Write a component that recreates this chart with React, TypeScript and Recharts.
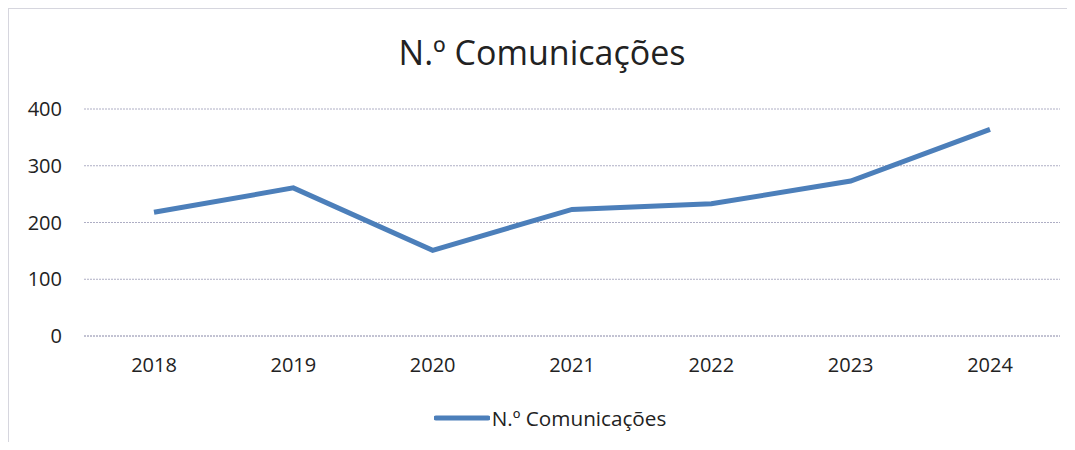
import { LineChart, Line, XAxis, YAxis, CartesianGrid } from "recharts";

const years = ["2018", "2019", "2020", "2021", "2022", "2023", "2024"];
const comunicacoes = [218, 261, 151, 223, 233, 273, 364];
const yTicks = [0, 100, 200, 300, 400];

const seriesName = "N.º Comunicações";
const data = years.map((year, i) => ({ year, value: comunicacoes[i] }));

const FONT = "'Open Sans', sans-serif";
const BLUE = "#4c7fba";

export default function App() {
  return (
    <div
      style={{
        position: "relative",
        width: 1059,
        height: 434,
        borderLeft: "1px solid #d6d6de",
        borderTop: "1px solid #d6d6de",
        boxSizing: "border-box",
        background: "#fff",
      }}
    >
      <div
        style={{
          position: "absolute",
          top: 20,
          left: 4,
          width: "100%",
          textAlign: "center",
          fontFamily: FONT,
          fontSize: 34,
          color: "#222",
        }}
      >
        {seriesName}
      </div>
      <LineChart
        width={1058}
        height={433}
        data={data}
        margin={{ top: 100, right: 7, left: 0, bottom: 76 }}
        style={{ position: "absolute", top: 0, left: 0 }}
      >
        <CartesianGrid vertical={false} stroke="#aeaec4" strokeDasharray="2 1" />
        <XAxis
          dataKey="year"
          padding={{ left: 70, right: 70 }}
          height={30}
          axisLine={{ stroke: "#aeaec4", strokeDasharray: "2 1" }}
          tickLine={false}
          tick={{ fontFamily: FONT, fontSize: 20, fill: "#222" }}
          tickMargin={16}
        />
        <YAxis
          domain={[0, 400]}
          ticks={yTicks}
          width={75}
          axisLine={false}
          tickLine={false}
          tickSize={0}
          tickMargin={22}
          tick={{ fontFamily: FONT, fontSize: 20, fill: "#222" }}
        />
        <Line
          type="linear"
          dataKey="value"
          name={seriesName}
          stroke={BLUE}
          strokeWidth={5}
          dot={false}
          isAnimationActive={false}
        />
      </LineChart>
      <div
        style={{
          position: "absolute",
          top: 395,
          left: 12,
          width: "100%",
          display: "flex",
          justifyContent: "center",
          alignItems: "center",
          fontFamily: FONT,
          fontSize: 20.7,
          color: "#222",
        }}
      >
        <svg width={56} height={10} style={{ marginRight: 2 }}>
          <line x1={2} y1={5} x2={54} y2={5} stroke={BLUE} strokeWidth={5} strokeLinecap="round" />
        </svg>
        <span>{seriesName}</span>
      </div>
    </div>
  );
}
